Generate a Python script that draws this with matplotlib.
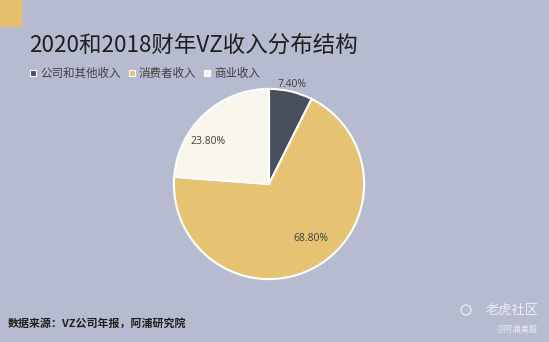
import matplotlib
matplotlib.use("Agg")
import matplotlib.pyplot as plt
import numpy as np
from matplotlib.patches import Rectangle, Ellipse

plt.rcParams['font.family'] = ['Noto Sans CJK SC', 'DejaVu Sans']

categories = ["公司和其他收入", "消费者收入", "商业收入"]
values = [7.40, 68.80, 23.80]
labels = ["7.40%", "68.80%", "23.80%"]
colors = ["#4a4f5e", "#e6c372", "#f8f5ec"]
label_dist = [1.07, 0.72, 0.78]
label_angle_shift = [0, 8, 12]

bg = "#b6bbcf"
fig = plt.figure(figsize=(5.49, 3.42), dpi=100, facecolor=bg)

# accent square
fig.patches.append(Rectangle((0, 1 - 27/342), 22/549, 27/342, transform=fig.transFigure,
                             facecolor="#e7c06e", edgecolor="none"))

fig.text(29/549, 1 - 45/342, "2020和2018财年VZ收入分布结构", fontsize=16.2,
         color="#1e1e1e", va="center", ha="left")

ax = fig.add_axes([(269-97)/549, 1-(184+97)/342, 194/549, 194/342])
ax.set_facecolor(bg)
wedges, _ = ax.pie(values, colors=colors, startangle=90, counterclock=False,
                   wedgeprops=dict(edgecolor="white", linewidth=1.5))
ax.set_aspect("equal")
ax.set_xlim(-1.02, 1.02)
ax.set_ylim(-1.02, 1.02)
for w, lab, d, s in zip(wedges, labels, label_dist, label_angle_shift):
    ang = np.deg2rad((w.theta1 + w.theta2) / 2 + s)
    ax.text(d * np.cos(ang), d * np.sin(ang), lab, ha="center", va="center",
            fontsize=7.5, color="#404040", family=["Open Sans", "DejaVu Sans"])

# legend
fig.canvas.draw()
renderer = fig.canvas.get_renderer()
x = 30
for cat, c in zip(categories, colors):
    fig.patches.append(Rectangle((x/549, 1 - 76/342), 6/549, 6/342, transform=fig.transFigure,
                                 facecolor=c, edgecolor="white", linewidth=0.8))
    t = fig.text((x + 10)/549, 1 - 73/342, cat, fontsize=8.3, color="#404040",
                 va="center", ha="left")
    bb = t.get_window_extent(renderer=renderer)
    x = bb.x1 + 8

fig.text(8/549, 1 - 323/342, "数据来源：VZ公司年报，阿浦研究院", fontsize=7.9,
         fontweight="bold", color="#1e1e1e", va="center", ha="left")
fig.patches.append(Ellipse((466/549, 1 - 310/342), 10/549, 10/342, transform=fig.transFigure,
                           facecolor="none", edgecolor="#eceef4", linewidth=0.9))
fig.text(539/549, 1 - 310/342, "老虎社区", fontsize=9.5, color="#eceef4",
         va="center", ha="right")
fig.text(538/549, 1 - 329/342, "@阿浦美股", fontsize=6, color="#eceef4",
         va="center", ha="right")

fig.savefig("out.png", dpi=100, facecolor=bg)
